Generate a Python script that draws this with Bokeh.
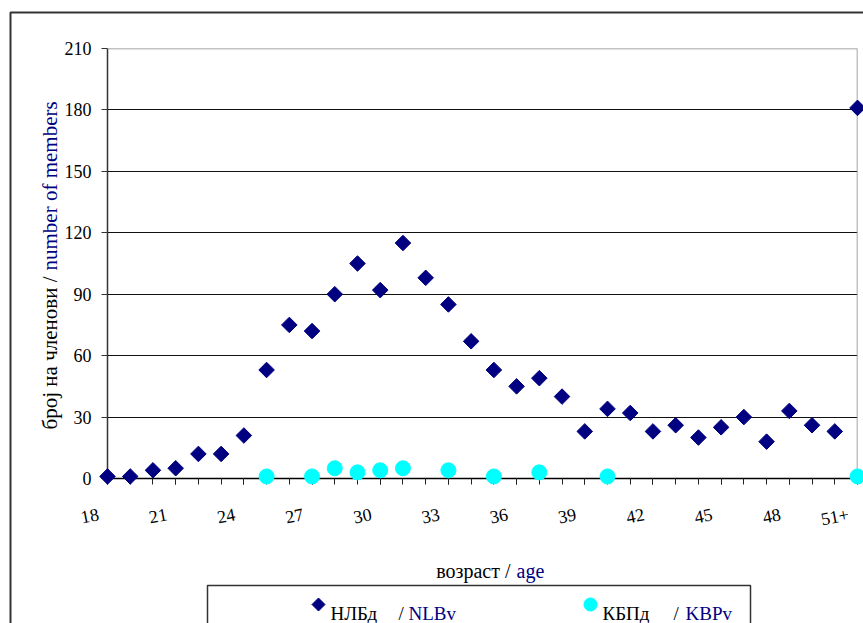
import math
from bokeh.plotting import figure
from bokeh.models import Range1d, FixedTicker, Span
from bokeh.core.properties import value
from bokeh.embed import file_html
from bokeh.resources import INLINE

# ---- data ----
ages = ["18", "19", "20", "21", "22", "23", "24", "25", "26", "27", "28",
        "29", "30", "31", "32", "33", "34", "35", "36", "37", "38", "39",
        "40", "41", "42", "43", "44", "45", "46", "47", "48", "49", "50", "51+"]
nlb_counts = [1, 1, 4, 5, 12, 12, 21, 53, 75, 72, 90, 105, 92, 115, 98, 85, 67,
              53, 45, 49, 40, 23, 34, 32, 23, 26, 20, 25, 30, 18, 33, 26, 23, 181]
kbp_ages = ["25", "27", "28", "29", "30", "31", "33", "35", "37", "40", "51+"]
kbp_counts = [1, 1, 5, 3, 4, 5, 4, 1, 3, 1, 1]
y_ticks = [0, 30, 60, 90, 120, 150, 180, 210]
label_step = 3

NAVY = "#000080"
CYAN = "#00FFFF"
FONT = "Liberation Serif"
PAD = "\u00a0\u00a0"

# layout (pixels in the page)
W, H = 863, 623
FL, FT, FR, FB = 107, 48, 857, 478

idx = {a: i for i, a in enumerate(ages)}
nlb_x = [idx[a] for a in ages]
kbp_x = [idx[a] for a in kbp_ages]
label_idx = list(range(0, len(ages), label_step))
x0, x1 = 0, len(ages) - 1
y0, y1 = y_ticks[0], y_ticks[-1]

def dx(px):
    return x0 + (px - FL) * (x1 - x0) / (FR - FL)

def dy(py):
    return y0 + (FB - py) * (y1 - y0) / (FB - FT)

p = figure(width=W, height=H,
           x_range=Range1d(x0, x1), y_range=Range1d(y0, y1),
           output_backend="svg", toolbar_location=None,
           min_border_left=FL, min_border_right=W - FR, min_border_top=FT,
           min_border_bottom=H - FB)
p.background_fill_color = "white"
p.border_fill_color = "white"
p.outline_line_color = None

# axes
p.xaxis.ticker = FixedTicker(ticks=label_idx, minor_ticks=list(range(len(ages))))
p.xaxis.major_label_overrides = {i: ages[i] + PAD for i in label_idx}
p.xaxis.major_label_orientation = 0.19
p.xaxis.major_label_standoff = 28
p.xaxis.major_tick_out = 6
p.xaxis.major_tick_in = 0
p.xaxis.minor_tick_out = 6
p.xaxis.minor_tick_in = 0
p.xaxis.major_tick_line_color = "#222"
p.xaxis.minor_tick_line_color = "#222"
p.xaxis.axis_line_color = "black"
p.xaxis.axis_line_width = 1.5

p.yaxis.ticker = FixedTicker(ticks=y_ticks, minor_ticks=[])
p.yaxis.major_tick_out = 6
p.yaxis.major_tick_in = 0
p.yaxis.major_label_standoff = 10
p.yaxis.axis_line_color = "#333"
p.yaxis.axis_line_width = 1.5
p.yaxis.major_tick_line_color = "#333"

for ax in (p.xaxis, p.yaxis):
    ax.major_label_text_font = FONT
    ax.major_label_text_font_size = "18px"
    ax.major_label_text_color = "black"

p.xgrid.visible = False
p.ygrid.ticker = FixedTicker(ticks=y_ticks[1:-1])
p.ygrid.grid_line_color = "#111"
p.ygrid.grid_line_width = 1

# plot-area border (top and right)
p.add_layout(Span(location=y1, dimension="width", line_color="#888", line_width=1.5))
p.add_layout(Span(location=x1, dimension="height", line_color="#888", line_width=1.5))

overlay = []

# outer chart border and legend box
overlay.append(p.quad(left=[dx(10)], right=[dx(2000)], top=[dy(12)], bottom=[dy(2000)],
                      fill_color=None, line_color="#333", line_width=2))
overlay.append(p.quad(left=[dx(207)], right=[dx(750)], top=[dy(585)], bottom=[dy(900)],
                      fill_color=None, line_color="#333", line_width=1.5))

# data
overlay.append(p.scatter(nlb_x, nlb_counts, marker="square", angle=math.pi / 4, size=11,
                         fill_color=NAVY, line_color=NAVY))
overlay.append(p.scatter(kbp_x, kbp_counts, marker="circle", size=15,
                         fill_color=CYAN, line_color=CYAN))

# legend markers (shapes placed in page pixels)
def px_patch(cx, cy, offsets, color):
    xs = [dx(cx + ox) for ox, oy in offsets]
    ys = [dy(cy + oy) for ox, oy in offsets]
    overlay.append(p.patch(xs, ys, fill_color=color, line_color=color, line_width=1))

R = 6.5
px_patch(318, 604, [(0, -R), (R, 0), (0, R), (-R, 0)], NAVY)
px_patch(590, 604, [(R * math.cos(k * math.pi / 24), R * math.sin(k * math.pi / 24))
                    for k in range(48)], CYAN)

def txt(text, px, py, color="black", align="left", angle=0.0, size="19px"):
    overlay.append(p.text(x=[dx(px)], y=[dy(py)], text=[text], angle=angle,
                          text_font=value(FONT), text_font_size=size,
                          text_color=color, text_align=align,
                          text_baseline="alphabetic"))

# legend texts
txt("НЛБд", 330, 613)
txt("/", 398, 613)
txt("NLBv", 408, 613, NAVY)
txt("КБПд", 602, 613)
txt("/", 673, 613)
txt("KBPv", 685, 613, NAVY)

# axis titles
txt("возраст /", 510, 570, "black", "right", 0.0, "20px")
txt("age", 516, 570, NAVY, "left", 0.0, "20px")
txt("број на членови /", 49, 276, "black", "right", math.pi / 2, "21px")
txt("number of members", 49, 270, NAVY, "left", math.pi / 2, "21px")

for r in overlay:
    r.level = "overlay"

open("out.html", "w").write(file_html(p, INLINE))
